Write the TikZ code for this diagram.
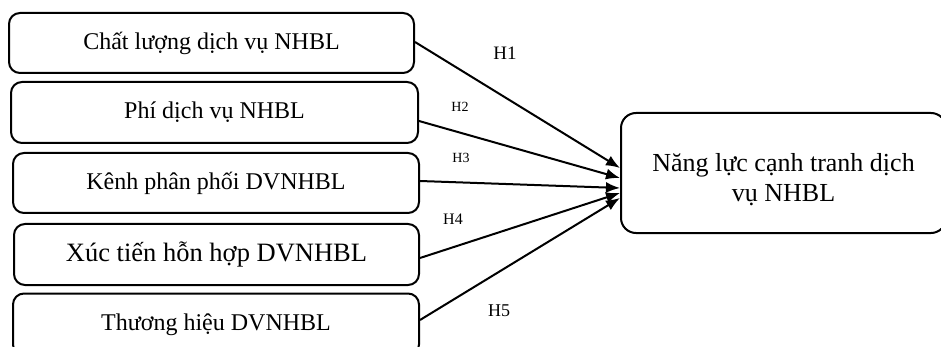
\documentclass[tikz,border=0pt]{standalone}
\usepackage{fontspec}
\setmainfont{Liberation Serif}
\usetikzlibrary{arrows.meta}

\begin{document}
\begin{tikzpicture}[x=1pt,y=-1pt,>={Latex[length=14pt,width=11pt]}]

  \tikzstyle{factor}=[rectangle,draw=black,line width=2pt,rounded corners=11pt,inner sep=0pt,font=\fontsize{24}{28}\selectfont]
  \tikzstyle{outcome}=[factor,rounded corners=15pt,align=center,font=\fontsize{26}{30}\selectfont]
  \tikzstyle{hypo}=[->,line width=2pt]
  \tikzstyle{hlabel}=[inner sep=0pt]

  \useasboundingbox (0,0) rectangle (941,347);

  % factors on the left
  \path  (211.5, 43)   node[factor,minimum width=405pt,minimum height=60pt]  (cl)  {Chất lượng dịch vụ NHBL}
         (214.5,112.5) node[factor,minimum width=407pt,minimum height=61pt]  (phi) {Phí dịch vụ NHBL}
         (216,  183)   node[factor,minimum width=406pt,minimum height=60pt]  (kenh) {Kênh phân phối DVNHBL}
         (216.5,254.5) node[factor,minimum width=405pt,minimum height=61pt,font=\fontsize{26.5}{30}\selectfont] (xt) {Xúc tiến hỗn hợp DVNHBL}
         (216,  324.5) node[factor,minimum width=406pt,minimum height=62pt]  (th)  {Thương hiệu DVNHBL};

  % competitiveness
  \node[outcome,minimum width=325pt,minimum height=120pt] (nl) at (783.5,173) {\rule{0pt}{31pt}Năng lực cạnh tranh dịch\\vụ NHBL};

  % hypotheses
  \path ([yshift=1pt]cl.east)    edge[hypo] ([yshift=5pt]nl.west);
  \path ([yshift=-8.5pt]phi.east) edge[hypo] ([yshift=-5pt]nl.west);
  \path ([yshift=2pt]kenh.east)  edge[hypo] ([yshift=-15pt]nl.west);
  \path ([yshift=-3.5pt]xt.east) edge[hypo] ([yshift=-20pt]nl.west);
  \path ([yshift=4.5pt]th.east)  edge[hypo] ([yshift=-25pt]nl.west);

  \node[hlabel,font=\fontsize{19}{22}\selectfont] (h1) at (505,53)  {H1};
  \node[hlabel,font=\fontsize{14}{16}\selectfont] (h2) at (460,107) {H2};
  \node[hlabel,font=\fontsize{14}{16}\selectfont] (h3) at (461,158) {H3};
  \node[hlabel,font=\fontsize{16}{18}\selectfont] (h4) at (453,219) {H4};
  \node[hlabel,font=\fontsize{18}{20}\selectfont] (h5) at (499,311) {H5};

\end{tikzpicture}
\end{document}
